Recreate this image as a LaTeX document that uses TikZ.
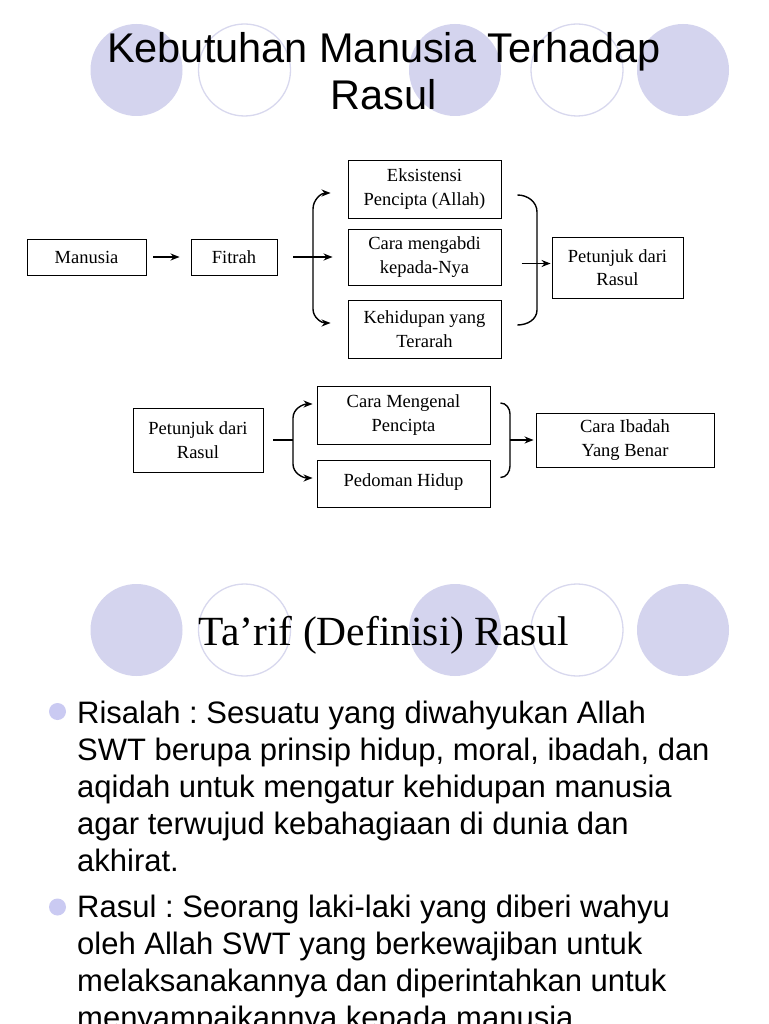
\documentclass[tikz,border=0pt]{standalone}
\usepackage{fontspec}
\setmainfont{Liberation Serif}
\newfontfamily\sansf{Liberation Sans}
\usetikzlibrary{arrows.meta}
\definecolor{dotL}{RGB}{212,212,238}
\definecolor{ringL}{RGB}{216,216,238}
\definecolor{bulL}{RGB}{202,202,242}
\frenchspacing

\begin{document}
\begin{tikzpicture}[x=1pt, y=-1pt, >={Stealth[length=9pt,width=7pt]},
  box/.style={draw, line width=0.9pt, align=center, inner sep=0pt,
    font=\fontsize{18.5}{23.5}\selectfont},
  arr/.style={->, line width=1.4pt},
  brc/.style={line width=1.4pt}]
\fill[white] (0,0) rectangle (768,1024);
\useasboundingbox (0,0) rectangle (768,1024);
% circles behind the two titles
\foreach \cy in {70,630} {
  \foreach \cx in {136.5,455,683} \fill[dotL] (\cx,\cy) circle[radius=46pt];
  \foreach \cx in {244.5,577} \draw[ringL, line width=1.3pt] (\cx,\cy) circle[radius=46pt];
}
\node[font=\sansf\fontsize{41.5}{47}\selectfont, align=center, anchor=base, inner sep=0pt]
  (judul) at (384,110) {Kebutuhan Manusia Terhadap\\Rasul};

% first chart
\node[box, minimum width=119pt, minimum height=36pt] (man) at (86.5,257) {Manusia};
\node[box, minimum width=86pt, minimum height=36pt] (fit) at (234,257) {Fitrah};
\node[box, minimum width=153pt, minimum height=58pt] (eks) at (424.5,189) {Eksistensi\\Pencipta (Allah)};
\node[box, minimum width=153pt, minimum height=56pt] (cara) at (424.5,257) {Cara mengabdi\\kepada-Nya};
\node[box, minimum width=153pt, minimum height=58pt] (hidup) at (424.5,329) {Kehidupan yang\\Terarah};
\node[box, minimum width=131pt, minimum height=61pt] (pet) at (617.5,267.5) {Petunjuk dari\\Rasul};
\draw[arr] ([xshift=7pt]man.east) -- ([xshift=-11pt]fit.west);
\draw[arr] ([xshift=16pt]fit.east) -- ([xshift=-15pt]cara.west);
\draw[brc, <->] ([xshift=-17pt,yshift=-4pt]eks.west) to[out=180,in=90] (313,209)
  -- (313,309) to[out=-90,in=180] ([xshift=-17pt,yshift=6pt]hidup.west);
\draw[brc] ([xshift=16pt,yshift=-6pt]eks.east) to[out=0,in=90] (537,212)
  -- (537,310) to[out=-90,in=0] ([xshift=16pt,yshift=4pt]hidup.east);
\draw[arr] ([xshift=-30pt,yshift=4pt]pet.west) -- ([xshift=-1pt,yshift=4pt]pet.west);

% second chart
\node[box, minimum width=130pt, minimum height=64pt] (pet2) at (198,440) {Petunjuk dari\\Rasul};
\node[box, minimum width=173pt, minimum height=58pt] (kenal) at (403.5,415) {Cara Mengenal\\Pencipta};
\node[box, minimum width=173pt, minimum height=47pt] (pedoman) at (403.5,483.5) {\raisebox{6pt}{Pedoman Hidup}};
\node[box, minimum width=178pt, minimum height=54pt] (ibadah) at (625,440) {Cara Ibadah\\Yang Benar};
\draw[brc] ([xshift=10pt]pet2.east) -- (293,440);
\draw[brc, <->] ([xshift=-4pt,yshift=11pt]kenal.west) to[out=180,in=90] (293,418)
  -- (293,464) to[out=-90,in=180] ([xshift=-4pt,yshift=5.5pt]pedoman.west);
\draw[brc] ([xshift=10pt,yshift=12pt]kenal.east) to[out=0,in=90] (510,414)
  -- (510,466) to[out=-90,in=0] ([xshift=10pt,yshift=6pt]pedoman.east);
\draw[arr] ([xshift=-26pt]ibadah.west) -- ([xshift=-2pt]ibadah.west);

% second slide
\node[font=\fontsize{41.5}{47}\selectfont, anchor=base, inner sep=0pt]
  (tarif) at (384,645) {Ta’rif (Definisi) Rasul};
\fill[bulL] (57.5,711.5) circle[radius=8.5pt];
\fill[bulL] (57.5,907) circle[radius=8.5pt];
\node[font=\sansf\fontsize{31}{37}\selectfont, align=left, anchor=base west, inner sep=0pt]
  (risalah) at (77,871) {Risalah : Sesuatu yang diwahyukan Allah\\SWT berupa prinsip hidup, moral, ibadah, dan\\aqidah untuk mengatur kehidupan manusia\\agar terwujud kebahagiaan di dunia dan\\akhirat.};
\node[font=\sansf\fontsize{31}{37}\selectfont, align=left, anchor=base west, inner sep=0pt]
  (rasul) at (77,1028) {Rasul : Seorang laki-laki yang diberi wahyu\\oleh Allah SWT yang berkewajiban untuk\\melaksanakannya dan diperintahkan untuk\\menyampaikannya kepada manusia.};
\end{tikzpicture}
\end{document}
